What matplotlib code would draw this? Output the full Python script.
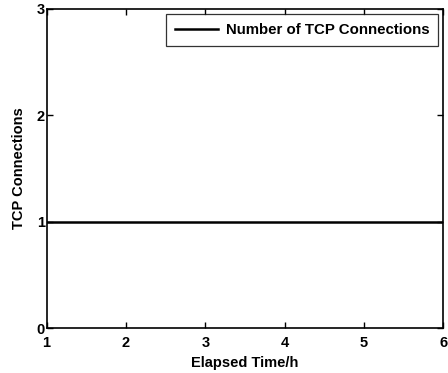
import matplotlib.pyplot as plt

# data
elapsed_hours = [1, 2, 3, 4, 5, 6]
tcp_connections = [1, 1, 1, 1, 1, 1]
x_ticks = [1, 2, 3, 4, 5, 6]
y_ticks = [0, 1, 2, 3]

plt.rcParams['font.family'] = ['Liberation Sans', 'DejaVu Sans']
plt.rcParams['font.weight'] = 'bold'

fig = plt.figure(figsize=(4.48, 3.73), dpi=100)
ax = fig.add_axes([0.1038, 0.1206, 0.886, 0.8566])

ax.plot(elapsed_hours, tcp_connections, color='black', linewidth=1.8,
        label='Number of TCP Connections')

ax.set_xlim(1, 6)
ax.set_ylim(0, 3)
ax.set_xticks(x_ticks)
ax.set_yticks(y_ticks)
ax.tick_params(direction='in', length=4, width=1, top=True, right=True,
               labelsize=10.5)
ax.tick_params(axis='x', pad=6)
ax.tick_params(axis='y', pad=1)
for lab in ax.get_xticklabels() + ax.get_yticklabels():
    lab.set_fontweight('bold')
for s in ax.spines.values():
    s.set_linewidth(1.2)

ax.set_xlabel('Elapsed Time/h', fontsize=10.5, fontweight='bold', labelpad=4)
ax.set_ylabel('TCP Connections', fontsize=10.5, fontweight='bold', labelpad=8)

leg = ax.legend(loc='upper right', fontsize=10.8, frameon=True, fancybox=False,
                edgecolor='black', handlelength=2.9, borderpad=0.6,
                borderaxespad=0.35, handletextpad=0.5)
leg.get_frame().set_linewidth(0.9)
for t in leg.get_texts():
    t.set_fontweight('bold')

fig.savefig('out.png', dpi=100)
